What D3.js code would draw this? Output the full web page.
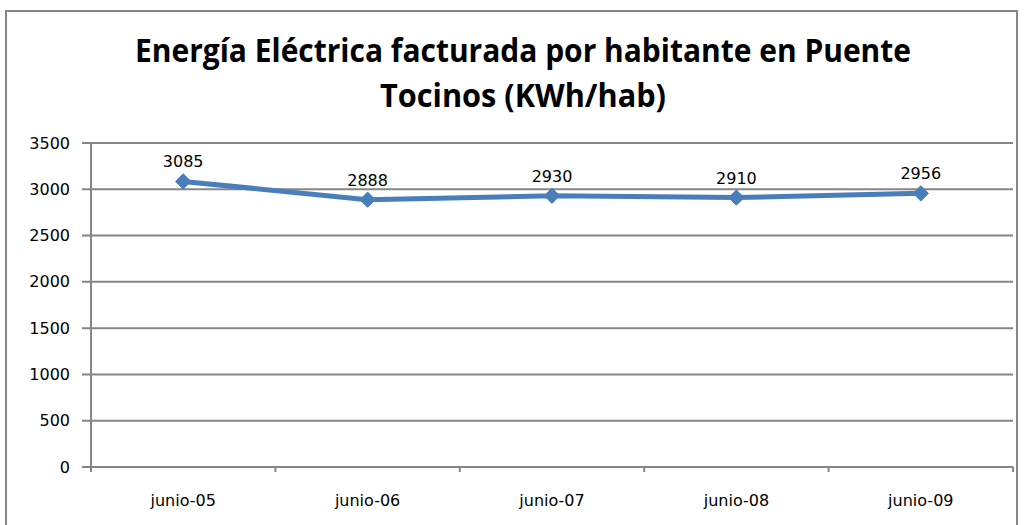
<!DOCTYPE html>
<html>
<head>
<meta charset="utf-8">
<script src="https://cdn.jsdelivr.net/npm/d3@7"></script>
<style>
  body { margin: 0; background: #fff; }
  svg text { font-family: "DejaVu Sans", sans-serif; }
</style>
</head>
<body>
<div id="chart"></div>
<script>
const categories = ['junio-05', 'junio-06', 'junio-07', 'junio-08', 'junio-09'];
const values = [3085, 2888, 2930, 2910, 2956];
const yTicks = [0, 500, 1000, 1500, 2000, 2500, 3000, 3500];
const titleLines = ['Energía Eléctrica facturada por habitante en Puente', 'Tocinos (KWh/hab)'];

const w = 1025;
const h = 525;
const padding = { top: 143, bottom: 58, left: 91, right: 12 };

const svg = d3.select('#chart').
  append('svg').
  attr('width', w).
  attr('height', h);

// outer chart frame
svg.append('rect').
  attr('x', 6).
  attr('y', 11).
  attr('width', 1011).
  attr('height', 530).
  attr('fill', 'none').
  attr('stroke', '#868686').
  attr('stroke-width', 2);

svg.selectAll('.title').
  data(titleLines).
  enter().
  append('text').
  attr('class', 'title').
  attr('x', 523).
  attr('y', (d, i) => 62 + i * 45).
  attr('text-anchor', 'middle').
  attr('textLength', (d, i) => i === 0 ? 776 : 286).
  attr('lengthAdjust', 'spacingAndGlyphs').
  style('font-family', '"Open Sans", sans-serif').
  style('font-weight', 'bold').
  style('font-size', '32px').
  text(d => d);

const xScale = d3.scaleBand().
  domain(categories).
  range([padding.left, w - padding.right]);

const yScale = d3.scaleLinear().
  domain([0, 3500]).
  range([h - padding.bottom, padding.top]);

// gridlines
svg.append('g').
  selectAll('line').
  data(yTicks).
  enter().
  append('line').
  attr('x1', padding.left - 9).
  attr('x2', w - padding.right).
  attr('y1', d => yScale(d)).
  attr('y2', d => yScale(d)).
  attr('stroke', '#868686').
  attr('stroke-width', 2);

// y axis
const yAxis = d3.axisLeft(yScale).tickValues(yTicks).tickFormat(d3.format('d')).tickSize(0).tickPadding(12);
const yG = svg.append('g').
  attr('transform', 'translate(' + (padding.left - 9) + ', 0)').
  call(yAxis);
yG.select('.domain').remove();
yG.selectAll('text').
  attr('font-family', '"DejaVu Sans", sans-serif').
  attr('font-size', 16).
  attr('fill', '#000');

svg.append('line').
  attr('x1', padding.left).
  attr('x2', padding.left).
  attr('y1', padding.top).
  attr('y2', h - padding.bottom + 5).
  attr('stroke', '#868686').
  attr('stroke-width', 2);

// x axis with ticks at band edges
const edges = categories.map(c => xScale(c)).concat([w - padding.right]);
svg.append('g').
  selectAll('line').
  data(edges).
  enter().
  append('line').
  attr('x1', d => d).
  attr('x2', d => d).
  attr('y1', h - padding.bottom).
  attr('y2', h - padding.bottom + 5).
  attr('stroke', '#868686').
  attr('stroke-width', 2);

svg.append('g').
  selectAll('text').
  data(categories).
  enter().
  append('text').
  attr('x', d => xScale(d) + xScale.bandwidth() / 2).
  attr('y', h - padding.bottom + 39).
  attr('text-anchor', 'middle').
  attr('font-size', 16).
  text(d => d);

// series line
const line = d3.line().
  x((d, i) => xScale(categories[i]) + xScale.bandwidth() / 2).
  y(d => yScale(d));

svg.append('path').
  datum(values).
  attr('d', line).
  attr('fill', 'none').
  attr('stroke', '#4a7ebb').
  attr('stroke-width', 5).
  attr('stroke-linejoin', 'round');

svg.selectAll('.marker').
  data(values).
  enter().
  append('path').
  attr('class', 'marker').
  attr('d', d3.symbol().type(d3.symbolDiamond2).size(150)).
  attr('transform', (d, i) => 'translate(' + (xScale(categories[i]) + xScale.bandwidth() / 2) + ',' + yScale(d) + ')').
  attr('fill', '#4a7ebb').
  attr('stroke', '#4a7ebb').
  attr('stroke-width', 1);

svg.selectAll('.label').
  data(values).
  enter().
  append('text').
  attr('class', 'label').
  attr('x', (d, i) => xScale(categories[i]) + xScale.bandwidth() / 2).
  attr('y', d => yScale(d) - 14).
  attr('text-anchor', 'middle').
  attr('font-size', 16).
  text(d => d);
</script>
</body>
</html>
